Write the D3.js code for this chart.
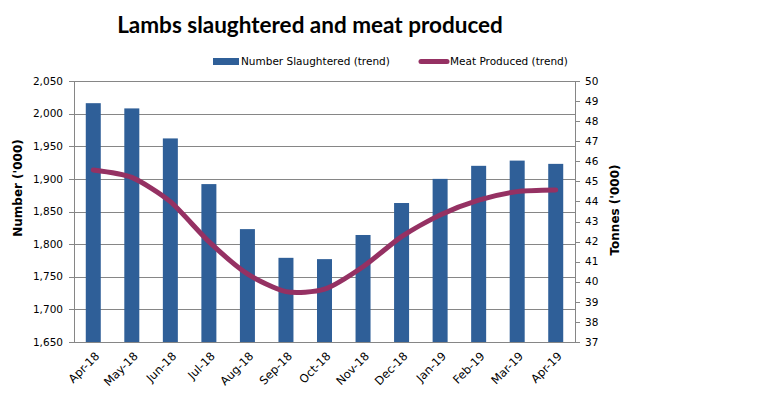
<!DOCTYPE html>
<html><head><meta charset="utf-8">
<script src="https://cdn.jsdelivr.net/npm/d3@7"></script>
<style>body{margin:0;background:#fff}</style>
</head><body><svg id="c" width="783" height="397"></svg>
<script>
const categories = ["Apr-18","May-18","Jun-18","Jul-18","Aug-18","Sep-18","Oct-18","Nov-18","Dec-18","Jan-19","Feb-19","Mar-19","Apr-19"];
const numberSlaughtered = [2016,2008,1962,1892,1823,1779,1777,1814,1863,1900,1920,1928,1923];
const meatProduced = [45.57,45.2,43.99,42.0,40.39,39.51,39.63,40.75,42.25,43.33,44.07,44.49,44.57];
const leftTicks = [1650,1700,1750,1800,1850,1900,1950,2000,2050];
const rightTicks = d3.range(37,51);

const svg = d3.select("#c");
const m = {l:74, r:575, t:81, b:342};
const x = d3.scaleBand().domain(categories).range([m.l,m.r]);
const yL = d3.scaleLinear().domain([1650,2050]).range([m.b,m.t]);
const yR = d3.scaleLinear().domain([37,50]).range([m.b,m.t]);
const tickFont = "DejaVu Sans, Verdana, sans-serif";
const gridColor = "#868686";

svg.append("text").attr("x",310).attr("y",33).attr("text-anchor","middle")
  .attr("font-family","Lato, sans-serif").attr("font-weight","bold").attr("font-size",22.5)
  .text("Lambs slaughtered and meat produced");

// gridlines
svg.append("g").selectAll("line").data(leftTicks).join("line")
  .attr("x1",m.l-5).attr("x2",m.r).attr("y1",d=>Math.round(yL(d))+0.5).attr("y2",d=>Math.round(yL(d))+0.5)
  .attr("stroke",gridColor).attr("stroke-width",1);

// bars
const bw = 15;
svg.append("g").selectAll("rect").data(numberSlaughtered).join("rect")
  .attr("x",(d,i)=>x(categories[i])+x.bandwidth()/2-bw/2)
  .attr("y",d=>yL(d)).attr("width",bw).attr("height",d=>m.b-yL(d))
  .attr("fill","#2F5F98");

// axes lines
svg.append("line").attr("x1",m.l+0.5).attr("x2",m.l+0.5).attr("y1",m.t).attr("y2",m.b).attr("stroke",gridColor);
svg.append("line").attr("x1",m.r+0.5).attr("x2",m.r+0.5).attr("y1",m.t).attr("y2",m.b).attr("stroke",gridColor);
svg.append("g").selectAll("line").data(rightTicks).join("line")
  .attr("x1",m.r).attr("x2",m.r+5).attr("y1",d=>Math.round(yR(d))+0.5).attr("y2",d=>Math.round(yR(d))+0.5)
  .attr("stroke",gridColor);

// line
const line = d3.line().x((d,i)=>x(categories[i])+x.bandwidth()/2).y(d=>yR(d)).curve(d3.curveCardinal.tension(0.3));
svg.append("path").datum(meatProduced).attr("d",line).attr("fill","none")
  .attr("stroke","#953163").attr("stroke-width",5).attr("stroke-linecap","round").attr("stroke-linejoin","round");

// left tick labels
svg.append("g").selectAll("text").data(leftTicks).join("text")
  .attr("x",63).attr("y",d=>yL(d)).attr("dy","0.35em").attr("text-anchor","end")
  .attr("font-family",tickFont).attr("font-size",10.5).attr("fill","#000")
  .text(d=>d3.format(",")(d));
// right tick labels
svg.append("g").selectAll("text").data(rightTicks).join("text")
  .attr("x",585).attr("y",d=>yR(d)).attr("dy","0.35em").attr("text-anchor","start")
  .attr("font-family",tickFont).attr("font-size",10.5).attr("fill","#000")
  .text(d=>d);
// x labels
svg.append("g").selectAll("text").data(categories).join("text")
  .attr("transform",d=>`translate(${x(d)+x.bandwidth()/2+4},${354}) rotate(-45)`)
  .attr("text-anchor","end").attr("dy","0.35em")
  .attr("font-family",tickFont).attr("font-size",11.5).attr("fill","#000")
  .text(d=>d);

// axis titles
svg.append("text").attr("transform","translate(18,188) rotate(-90)").attr("text-anchor","middle").attr("dy","0.35em")
  .attr("font-family",tickFont).attr("font-weight","bold").attr("font-size",12).text("Number ('000)");
svg.append("text").attr("transform","translate(615,210) rotate(-90)").attr("text-anchor","middle").attr("dy","0.35em")
  .attr("font-family",tickFont).attr("font-weight","bold").attr("font-size",12).text("Tonnes ('000)");

// legend
svg.append("rect").attr("x",213).attr("y",58).attr("width",26).attr("height",7).attr("fill","#2F5F98");
svg.append("text").attr("x",241).attr("y",61.5).attr("dy","0.35em").attr("font-family",tickFont).attr("font-size",10.5).text("Number Slaughtered (trend)");
svg.append("line").attr("x1",421).attr("x2",447).attr("y1",61.5).attr("y2",61.5).attr("stroke","#953163").attr("stroke-width",5).attr("stroke-linecap","round");
svg.append("text").attr("x",450).attr("y",61.5).attr("dy","0.35em").attr("font-family",tickFont).attr("font-size",10.5).text("Meat Produced (trend)");
</script></body></html>
